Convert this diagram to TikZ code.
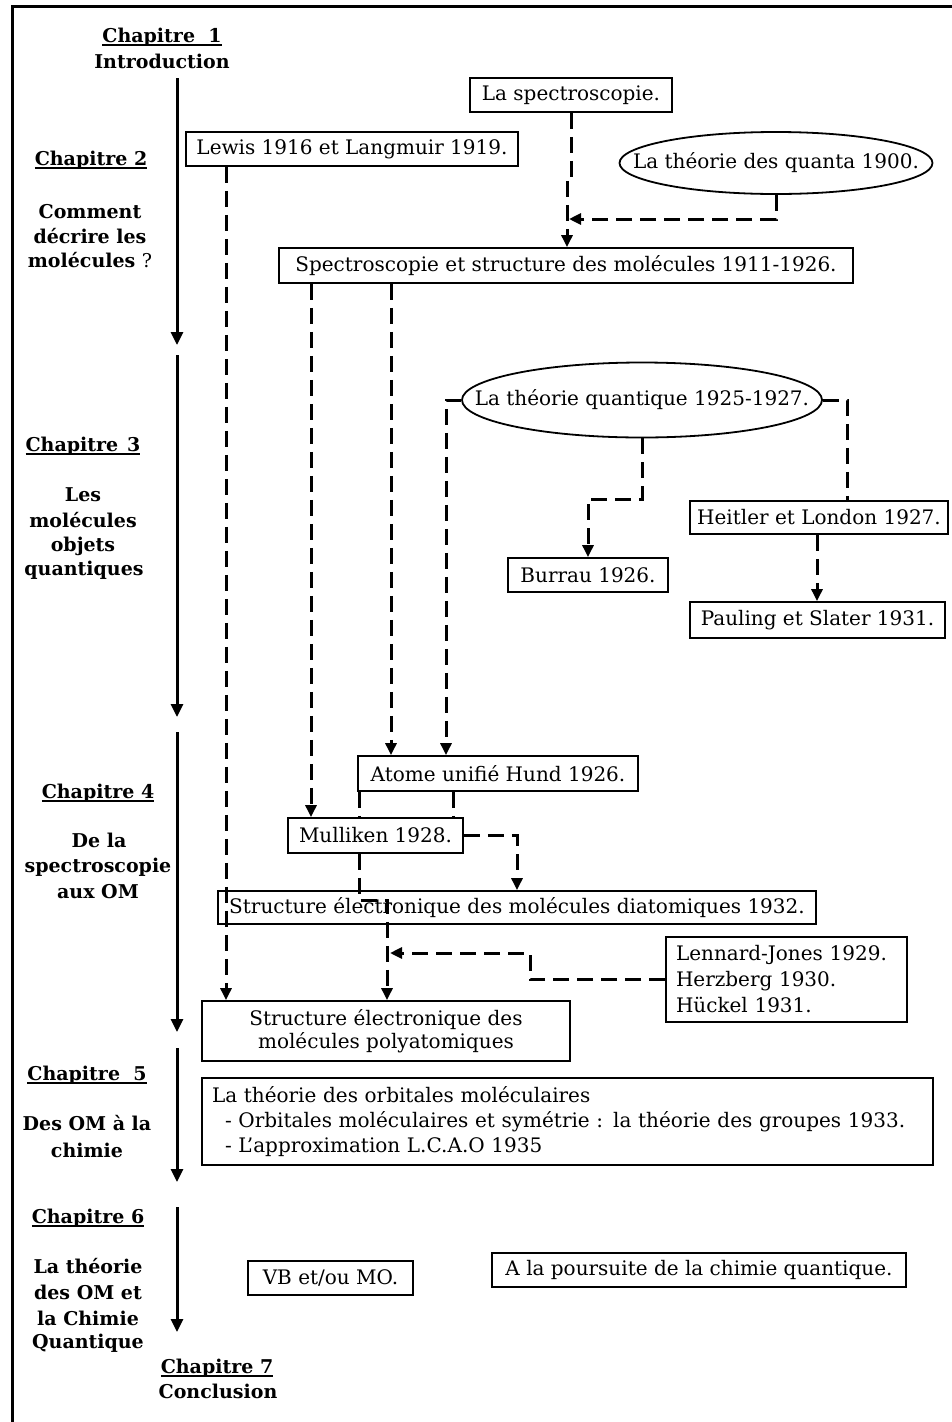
\documentclass[tikz,border=0pt]{standalone}
\usepackage{fontspec}
\setmainfont{DejaVu Serif}
\usetikzlibrary{arrows.meta,shapes.geometric}
\newcommand\chu[1]{\setbox0\hbox{#1}\rlap{\rule[-3.5pt]{\wd0}{1.8pt}}\box0}
\newcommand\boxfont{\fontsize{20}{26}\selectfont}
\newcommand\chapfont{\fontsize{19}{25}\selectfont\bfseries}
\tikzset{
  box/.style={draw, line width=1.8pt, inner sep=0pt, font=\boxfont, anchor=center},
  ell/.style={draw, ellipse, line width=1.8pt, inner sep=0pt, font=\boxfont},
  dl/.style={line width=3pt, dash pattern=on 16pt off 8pt},
  dla/.style={dl, -{Triangle[length=12pt,width=11pt]}},
  chaparrow/.style={line width=3pt, -{Triangle[length=13pt,width=12pt]}},
  chap/.style={font=\chapfont, anchor=base, inner sep=0pt},
}
\begin{document}
\begin{tikzpicture}[x=1pt,y=-1pt]
\useasboundingbox (0,0) rectangle (951,1422);
% frame
\draw[line width=3pt] (12,1440) -- (12,6) -- (970,6);

% chapter labels
\node[chap] (c1a) at (162,42) {\chu{Chapitre\ \ 1}};
\node[chap] (c1b) at (162,68) {Introduction};
\node[chap] (c2a) at (91,165) {\chu{Chapitre 2}};
\node[chap] (c2b) at (90,218) {Comment};
\node[chap] (c2c) at (90,243) {décrire les};
\node[chap] (c2d) at (90,267) {molécules {\mdseries ?}};
\node[chap] (c3a) at (83,451) {\chu{Chapitre\hspace{9pt}3}};
\node[chap] (c3b) at (83,501) {Les};
\node[chap] (c3c) at (83,527) {molécules};
\node[chap] (c3d) at (83,551) {objets};
\node[chap] (c3e) at (84,575) {quantiques};
\node[chap] (c4a) at (98,798) {\chu{Chapitre 4}};
\node[chap] (c4b) at (99,847) {De la};
\node[chap] (c4c) at (98,872) {spectroscopie};
\node[chap] (c4d) at (98,898) {aux OM};
\node[chap] (c5a) at (87,1080) {\chu{Chapitre\ \ 5}};
\node[chap] (c5b) at (87,1130) {Des OM à la};
\node[chap] (c5c) at (87,1157) {chimie};
\node[chap] (c6a) at (88,1223) {\chu{Chapitre 6}};
\node[chap] (c6b) at (88,1273) {La théorie};
\node[chap] (c6c) at (88,1299) {des OM et};
\node[chap] (c6d) at (88,1325) {la Chimie};
\node[chap] (c6e) at (88,1348) {Quantique};
\node[chap] (c7a) at (217,1373) {\chu{Chapitre 7}};
\node[chap] (c7b) at (218,1398) {Conclusion};

% chapter arrows
\coordinate (a1s) at (177,78);   \coordinate (a1e) at (177,345);
\coordinate (a2s) at (177,355);  \coordinate (a2e) at (177,717);
\coordinate (a3s) at (177,732);  \coordinate (a3e) at (177,1032);
\coordinate (a4s) at (177,1048); \coordinate (a4e) at (177,1182);
\coordinate (a5s) at (177,1207); \coordinate (a5e) at (177,1332);
\draw[chaparrow] (a1s) -- (a1e);
\draw[chaparrow] (a2s) -- (a2e);
\draw[chaparrow] (a3s) -- (a3e);
\draw[chaparrow] (a4s) -- (a4e);
\draw[chaparrow] (a5s) -- (a5e);

% boxes
\node[box, minimum width=202pt, minimum height=34pt] (spec) at (571,95) {La spectroscopie.};
\node[box, minimum width=332pt, minimum height=34pt] (lewis) at (352,149) {Lewis 1916 et Langmuir 1919.};
\node[ell, minimum width=313pt, minimum height=62pt] (quanta) at (776,163) {\makebox[0pt]{La théorie des quanta 1900.}};
\node[box, minimum width=574pt, minimum height=35pt] (spst) at (566,265.5) {Spectroscopie et structure des molécules 1911-1926.};
\node[ell, minimum width=360pt, minimum height=75pt] (quant) at (642,400) {\makebox[0pt]{La théorie quantique 1925-1927.}};
\node[box, minimum width=258pt, minimum height=33pt] (heitler) at (819,517.5) {Heitler et London 1927.};
\node[box, minimum width=160pt, minimum height=34pt] (burrau) at (588,575) {Burrau 1926.};
\node[box, minimum width=255pt, minimum height=36pt] (pauling) at (817.5,620) {Pauling et Slater 1931.};
\node[box, minimum width=280pt, minimum height=35pt] (atome) at (498,773.5) {Atome unifié Hund 1926.};
\node[box, minimum width=175pt, minimum height=35pt] (mull) at (375.5,835.5) {Mulliken 1928.};
\node[box, minimum width=598pt, minimum height=33pt] (diat) at (517,907.5) {Structure électronique des molécules diatomiques 1932.};
\node[box, minimum width=241pt, minimum height=85pt, align=left, text width=221pt] (lenn) at (786.5,979.5) {Lennard-Jones 1929.\\Herzberg 1930.\\Hückel 1931.};
\node[box, minimum width=368pt, minimum height=60pt, align=center, font=\fontsize{20}{23}\selectfont] (poly) at (386,1031) {Structure électronique des\\molécules polyatomiques};
\node[box, minimum width=731pt, minimum height=87pt, align=left, text width=711pt, font=\fontsize{20}{25}\selectfont] (orb) at (567.5,1121.5) {La théorie des orbitales moléculaires\\\hspace*{13pt}- Orbitales moléculaires et symétrie : la théorie des groupes 1933.\\\hspace*{13pt}- L’approximation L.C.A.O 1935};
\node[box, minimum width=165pt, minimum height=34pt] (vb) at (330.5,1278) {VB et/ou MO.};
\node[box, minimum width=414pt, minimum height=34pt] (pours) at (699,1270) {A la poursuite de la chimie quantique.};

% connectors
\coordinate (j1) at (567,180);
\draw[dla] (spec.south) -- (spec.south |- j1) -- (j1) -- (j1 |- spst.north);
\coordinate (j2) at (569,219);
\draw[dla] (quanta.south) |- (j2);
\coordinate (xL) at (226,0);
\draw[dla] (lewis.south -| xL) -- (poly.north -| xL);
\coordinate (xa) at (311,0);
\draw[dla] (spst.south -| xa) -- (mull.north -| xa);
\coordinate (xb) at (391,0);
\draw[dla] (spst.south -| xb) -- (atome.north -| xb);
\coordinate (xc) at (446,0);
\draw[dla] (quant.west) -- (quant.west -| xc) -- (atome.north -| xc);
\coordinate (xd) at (847,0);
\draw[dl] (quant.east) -- (quant.east -| xd) -- (heitler.north -| xd);
\coordinate (j3) at (643,499);
\draw[dla] (quant.south) -- (quant.south |- j3) -- (j3 -| burrau.north) -- (burrau.north);
\coordinate (xe) at (817,0);
\draw[dla] (heitler.south -| xe) -- (pauling.north -| xe);
\coordinate (xf) at (453,0);
\draw[dl] (atome.south -| xf) -- (mull.north -| xf);
\coordinate (xg) at (359,0);
\draw[dl] (atome.south -| xg) -- (mull.north -| xg);
\coordinate (j4) at (387,900);
\draw[dla] (mull.south -| xg) -- (xg |- j4) -- (j4) -- (j4 |- poly.north);
\coordinate (j5) at (517,0);
\draw[dla] (mull.east) -- (mull.east -| j5) -- (j5 |- diat.north);
\coordinate (j6) at (530,953);
\coordinate (j7) at (390,953);
\draw[dla] (lenn.west) -- (lenn.west -| j6) -- (j6) -- (j7);
\end{tikzpicture}
\end{document}
